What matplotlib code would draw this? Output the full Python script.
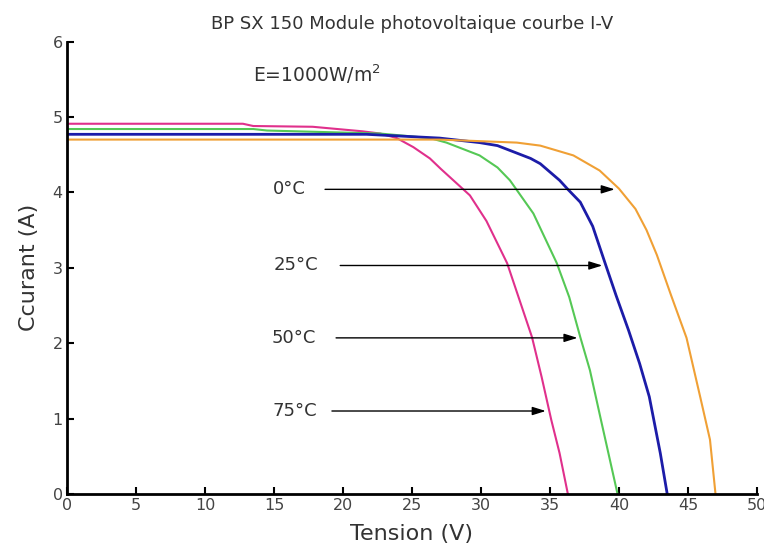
import matplotlib.pyplot as plt

plt.rcParams['font.family'] = ['DejaVu Sans']

# courbes I-V (V, A)
v_75 = [0, 12.75, 13.5, 17.8, 21.4, 22.7, 23.9, 25.1, 26.3, 27.1, 29.2, 30.4, 31.9, 32.8, 33.7, 34.4, 35.1, 35.7, 36.3]
i_75 = [4.91, 4.91, 4.88, 4.87, 4.81, 4.78, 4.72, 4.60, 4.45, 4.31, 3.96, 3.62, 3.06, 2.57, 2.08, 1.55, 0.98, 0.54, 0]

v_50 = [0, 13.5, 14.5, 22.7, 26.3, 27.5, 29.9, 31.2, 32.1, 33.8, 35.5, 36.4, 37.2, 37.9, 38.7, 39.9]
i_50 = [4.84, 4.84, 4.82, 4.78, 4.72, 4.66, 4.49, 4.33, 4.16, 3.72, 3.06, 2.61, 2.08, 1.64, 0.98, 0]

v_25 = [0, 21.7, 27.0, 29.9, 31.2, 33.6, 34.3, 35.7, 36.3, 37.2, 38.1, 39.0, 39.8, 40.7, 41.5, 42.2, 43.0, 43.5]
i_25 = [4.77, 4.77, 4.72, 4.66, 4.62, 4.45, 4.38, 4.16, 4.04, 3.87, 3.55, 3.06, 2.63, 2.17, 1.73, 1.29, 0.54, 0]

v_0 = [0, 27.0, 32.6, 34.3, 36.7, 38.6, 40.0, 41.2, 42.0, 42.75, 43.75, 44.9, 45.9, 46.6, 47.0]
i_0 = [4.70, 4.70, 4.66, 4.62, 4.49, 4.29, 4.05, 3.78, 3.50, 3.17, 2.65, 2.07, 1.28, 0.72, 0]

# fleches des temperatures
labels = ['0°C', '25°C', '50°C', '75°C']
lab_x = [14.9, 15.0, 14.8, 14.9]
arr_y = [4.04, 3.03, 2.07, 1.10]
arr_start = [18.5, 19.6, 19.3, 19.0]
arr_end = [39.9, 39.0, 37.2, 34.9]

fig = plt.figure(figsize=(7.64, 5.47), dpi=100)
ax = fig.add_axes([0.0877, 0.097, 0.903, 0.827])

ax.plot(v_75, i_75, color='#e0308c', lw=1.5)
ax.plot(v_50, i_50, color='#55c855', lw=1.5)
ax.plot(v_25, i_25, color='#1c1ca8', lw=2)
ax.plot(v_0, i_0, color='#f0a035', lw=1.5)

for lab, lx, y, x0, x1 in zip(labels, lab_x, arr_y, arr_start, arr_end):
    ax.text(lx, y, lab, fontsize=13, va='center', ha='left', color='#333333')
    ax.annotate('', xy=(x1, y), xytext=(x0, y),
                arrowprops=dict(arrowstyle='-|>,head_length=0.8,head_width=0.25',
                                color='black', lw=1))

ax.text(13.5, 5.57, 'E=1000W/m$^2$', fontsize=13.5, va='center', color='#333333')

ax.set_xlim(0, 50)
ax.set_ylim(0, 6)
ax.set_xticks(range(0, 51, 5))
ax.set_yticks(range(0, 7))
ax.spines['top'].set_visible(False)
ax.spines['right'].set_visible(False)
ax.spines['left'].set_linewidth(2)
ax.spines['bottom'].set_linewidth(2)
ax.tick_params(direction='in', length=5, width=1.5, labelsize=11.5, labelcolor='#444444', pad=3)

ax.set_title('BP SX 150 Module photovoltaique courbe I-V', fontsize=13, color='#333333', pad=9)
ax.set_xlabel('Tension (V)', fontsize=16, color='#333333', labelpad=8)
ax.set_ylabel('Ccurant (A)', fontsize=16, color='#333333', labelpad=10)

fig.savefig('out.png', dpi=100)
